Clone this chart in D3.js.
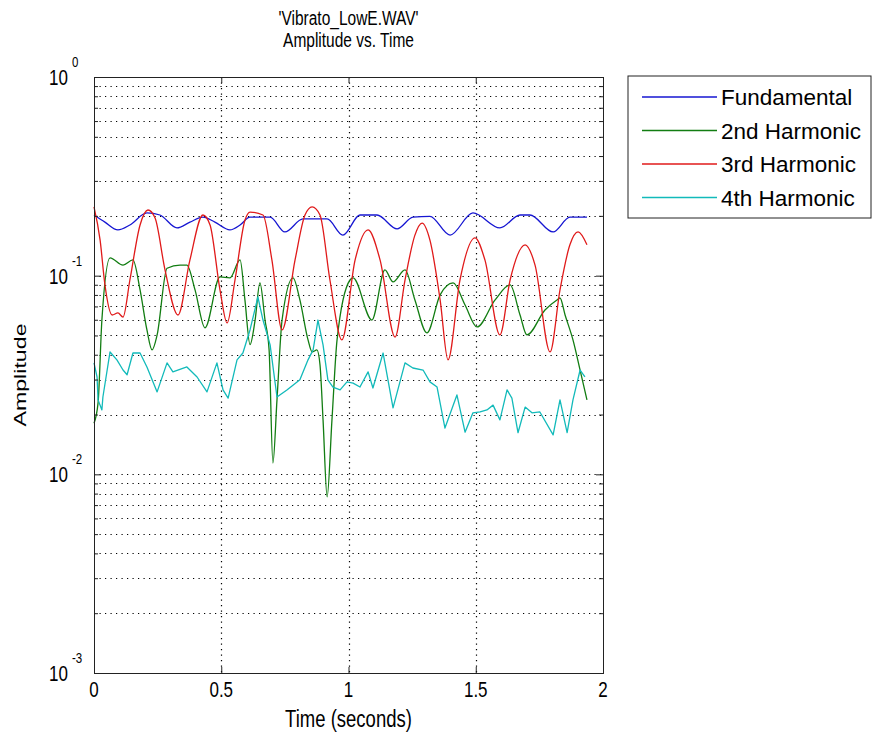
<!DOCTYPE html>
<html>
<head>
<meta charset="utf-8">
<script src="https://cdn.jsdelivr.net/npm/d3@7"></script>
<style>
  body { margin: 0; background: #fff; }
  svg text { font-family: "Liberation Sans", Arial, sans-serif; fill: #000; }
</style>
</head>
<body>
<svg id="chart"></svg>
<script>
// Text
const titleLines = ["'Vibrato_LowE.WAV'", 'Amplitude vs. Time'];
const xLabel = 'Time (seconds)';
const yLabel = 'Amplitude';
const seriesNames = ['Fundamental', '2nd Harmonic', '3rd Harmonic', '4th Harmonic'];
const seriesColors = ['#1616d2', '#127d12', '#e01a1a', '#12baba'];

// Ticks
const xTickValues = [0, 0.5, 1, 1.5, 2];
const yTickExponents = [0, -1, -2, -3];

// Fundamental
const fundTime = [0.0, 0.043, 0.094, 0.141, 0.208, 0.259, 0.326, 0.377, 0.428, 0.475, 0.534, 0.574, 0.613,
  0.692, 0.75, 0.821, 0.916, 0.978, 1.045, 1.112, 1.191, 1.253, 1.32, 1.399, 1.489, 1.595, 1.674, 1.713,
  1.804, 1.87, 1.937];
const fundAmp = [0.202, 0.186, 0.170, 0.180, 0.207, 0.202, 0.174, 0.186, 0.197, 0.186, 0.170, 0.180, 0.197,
  0.197, 0.166, 0.193, 0.193, 0.160, 0.202, 0.202, 0.172, 0.197, 0.199, 0.160, 0.207, 0.174, 0.202, 0.202,
  0.166, 0.197, 0.197];

// 2nd harmonic
const secondTime = [0.0, 0.016, 0.031, 0.063, 0.114, 0.153, 0.181, 0.208, 0.228, 0.248, 0.287, 0.338, 0.365,
  0.397, 0.436, 0.495, 0.534, 0.574, 0.593, 0.613, 0.633, 0.652, 0.672, 0.688, 0.703, 0.719, 0.739, 0.782,
  0.809, 0.841, 0.857, 0.876, 0.888, 0.900, 0.916, 0.935, 0.955, 1.006, 1.018, 1.092, 1.143, 1.175, 1.222,
  1.261, 1.308, 1.36, 1.411, 1.458, 1.505, 1.576, 1.635, 1.674, 1.701, 1.772, 1.819, 1.831, 1.851, 1.882,
  1.91, 1.937];
const secondAmp = [0.0181, 0.0229, 0.0598, 0.123, 0.113, 0.120, 0.0848, 0.0533, 0.0423, 0.0503, 0.109, 0.113,
  0.113, 0.0848, 0.0546, 0.0985, 0.0974, 0.120, 0.0755, 0.0450, 0.0598, 0.0919, 0.0598, 0.0423, 0.0114,
  0.0237, 0.0598, 0.0974, 0.0755, 0.0475, 0.0413, 0.0423, 0.0356, 0.0188, 0.0077, 0.0188, 0.0475, 0.0951,
  0.0974, 0.0598, 0.107, 0.0930, 0.107, 0.0755, 0.0515, 0.0800, 0.0919, 0.0712, 0.0552, 0.0755, 0.0898,
  0.0634, 0.0503, 0.0672, 0.0755, 0.0772, 0.0634, 0.0475, 0.0335, 0.0237];

// 3rd harmonic
const thirdTime = [0.0, 0.024, 0.043, 0.071, 0.094, 0.114, 0.141, 0.181, 0.212, 0.24, 0.279, 0.33, 0.377,
  0.428, 0.456, 0.495, 0.523, 0.554, 0.593, 0.613, 0.664, 0.699, 0.739, 0.79, 0.829, 0.857, 0.888, 0.927,
  0.974, 1.026, 1.077, 1.124, 1.183, 1.222, 1.261, 1.289, 1.32, 1.36, 1.391, 1.438, 1.497, 1.536, 1.595,
  1.635, 1.694, 1.733, 1.792, 1.831, 1.87, 1.902, 1.937];
const thirdAmp = [0.222, 0.151, 0.0898, 0.0634, 0.0649, 0.0619, 0.0951, 0.180, 0.214, 0.195, 0.107, 0.0634,
  0.120, 0.202, 0.180, 0.0848, 0.0578, 0.0951, 0.190, 0.209, 0.202, 0.120, 0.0533, 0.120, 0.202, 0.222,
  0.202, 0.0951, 0.0475, 0.120, 0.170, 0.120, 0.0491, 0.0951, 0.160, 0.184, 0.151, 0.0755, 0.0377, 0.0951,
  0.155, 0.120, 0.0503, 0.0951, 0.143, 0.113, 0.0413, 0.0848, 0.143, 0.166, 0.143];

// 4th harmonic
const fourthTime = [0.0, 0.012, 0.016, 0.031, 0.035, 0.063, 0.09, 0.114, 0.13, 0.153, 0.181, 0.208, 0.248,
  0.287, 0.31, 0.365, 0.405, 0.444, 0.483, 0.507, 0.527, 0.562, 0.585, 0.613, 0.644, 0.664, 0.692, 0.719,
  0.758, 0.809, 0.841, 0.861, 0.88, 0.9, 0.919, 0.939, 0.967, 0.994, 1.018, 1.045, 1.077, 1.096, 1.136,
  1.175, 1.222, 1.253, 1.293, 1.32, 1.348, 1.379, 1.426, 1.458, 1.489, 1.517, 1.544, 1.568, 1.595, 1.623,
  1.642, 1.666, 1.694, 1.721, 1.752, 1.804, 1.831, 1.859, 1.882, 1.91, 1.929];
const fourthAmp = [0.0364, 0.0309, 0.0237, 0.0211, 0.0245, 0.0413, 0.0377, 0.0335, 0.0317, 0.0408, 0.0408,
  0.0347, 0.0260, 0.0364, 0.0328, 0.0347, 0.0309, 0.0260, 0.0364, 0.0266, 0.0242, 0.0377, 0.0408, 0.0533,
  0.0781, 0.0598, 0.0448, 0.0245, 0.0266, 0.0299, 0.0377, 0.0423, 0.0598, 0.0448, 0.0299, 0.0275, 0.0266,
  0.0292, 0.0288, 0.0275, 0.0328, 0.0272, 0.0408, 0.0216, 0.0364, 0.0343, 0.0335, 0.0292, 0.0275, 0.0171,
  0.0251, 0.0163, 0.0204, 0.0206, 0.0211, 0.0223, 0.0188, 0.0266, 0.0242, 0.0162, 0.0218, 0.0204, 0.0206,
  0.0158, 0.0237, 0.0162, 0.0237, 0.0335, 0.0309];

// text that is a bit taller than it is wide, like the stretched original
function tallText(parent, x, y, str, size, sy, anchor) {
    return parent.append('text')
        .attr('transform', `translate(${x},${y}) scale(1,${sy})`)
        .attr('text-anchor', anchor || 'start')
        .attr('font-size', size)
        .text(str);
}

class LogLinePlot {

    constructor(_config, _data) {
        this.config = {
            parentElement: _config.parentElement,
            containerWidth: _config.containerWidth || 876,
            containerHeight: _config.containerHeight || 743,
            margin: { top: 77, bottom: 70, right: 273, left: 94 }
        }
        this.data = _data;
        this.initVis();
    }

    initVis() {
        let vis = this;

        vis.width = vis.config.containerWidth - vis.config.margin.left - vis.config.margin.right;
        vis.height = vis.config.containerHeight - vis.config.margin.top - vis.config.margin.bottom;

        vis.svg = d3.select(vis.config.parentElement)
            .attr('width', vis.config.containerWidth)
            .attr('height', vis.config.containerHeight);

        vis.chart = vis.svg.append('g')
            .attr('transform', `translate(${vis.config.margin.left},${vis.config.margin.top})`);

        vis.xScale = d3.scaleLinear()
            .domain([0, 2])
            .range([0, vis.width]);

        vis.yScale = d3.scaleLog()
            .domain([1e-3, 1])
            .range([vis.height, 0]);

        // major and minor positions of the log axis
        vis.yMajor = yTickExponents.map(e => Math.pow(10, e));
        vis.yMinor = [];
        for (let e = -3; e < 0; e++) {
            for (let k = 2; k <= 9; k++) vis.yMinor.push(k * Math.pow(10, e));
        }

        vis.renderVis();
    }

    renderVis() {
        let vis = this;

        // dotted grid
        const grid = vis.chart.append('g').attr('class', 'grid')
            .attr('stroke', '#000')
            .attr('stroke-width', 1.2)
            .attr('stroke-dasharray', '1.2,4.3');

        grid.selectAll('.hgrid')
            .data(vis.yMinor.concat(vis.yMajor.filter(v => v > 1e-3 && v < 1)))
          .join('line')
            .attr('class', 'hgrid')
            .attr('x1', 0).attr('x2', vis.width)
            .attr('y1', d => Math.round(vis.yScale(d)) + 0.5)
            .attr('y2', d => Math.round(vis.yScale(d)) + 0.5);

        grid.selectAll('.vgrid')
            .data(xTickValues.filter(v => v > 0 && v < 2))
          .join('line')
            .attr('class', 'vgrid')
            .attr('y1', 0).attr('y2', vis.height)
            .attr('x1', d => Math.round(vis.xScale(d)) + 0.5)
            .attr('x2', d => Math.round(vis.xScale(d)) + 0.5);

        // lines
        vis.line = d3.line()
            .x(d => vis.xScale(d.t))
            .y(d => vis.yScale(d.v));

        vis.chart.selectAll('.series')
            .data(vis.data)
          .join('path')
            .attr('class', 'series')
            .attr('fill', 'none')
            .attr('stroke', d => d.color)
            .attr('stroke-width', 1.3)
            .attr('stroke-linejoin', 'round')
            .attr('d', d => vis.line.curve(d.smooth ? d3.curveMonotoneX : d3.curveLinear)(d.values));

        // box and inward ticks on all four sides
        const xBottom = d3.axisBottom(vis.xScale).tickValues(xTickValues).tickSize(-6).tickFormat('');
        const xTop = d3.axisTop(vis.xScale).tickValues(xTickValues).tickSize(-6).tickFormat('');
        const yLeft = d3.axisLeft(vis.yScale).tickValues(vis.yMajor).tickSize(-7).tickFormat('');
        const yRight = d3.axisRight(vis.yScale).tickValues(vis.yMajor).tickSize(-7).tickFormat('');
        const yLeftMinor = d3.axisLeft(vis.yScale).tickValues(vis.yMinor).tickSize(-4).tickFormat('');
        const yRightMinor = d3.axisRight(vis.yScale).tickValues(vis.yMinor).tickSize(-4).tickFormat('');

        const axes = [
            [xBottom, `translate(0,${vis.height})`],
            [xTop, 'translate(0,0)'],
            [yLeft, 'translate(0,0)'],
            [yLeftMinor, 'translate(0,0)'],
            [yRight, `translate(${vis.width},0)`],
            [yRightMinor, `translate(${vis.width},0)`]
        ];
        axes.forEach(([ax, tr]) => {
            const g = vis.chart.append('g').attr('class', 'axis').attr('transform', tr).call(ax);
            g.selectAll('path, line').attr('stroke', '#222').attr('stroke-width', 1);
        });

        // x tick labels
        const xLab = vis.chart.append('g').attr('class', 'xlabels');
        xTickValues.forEach(v => {
            tallText(xLab, vis.xScale(v), vis.height + 24, d3.format('~g')(v), 17, 1.3, 'middle');
        });

        // y tick labels as 10 with a raised exponent
        const yLab = vis.chart.append('g').attr('class', 'ylabels');
        yTickExponents.forEach(e => {
            const yPos = vis.yScale(Math.pow(10, e));
            tallText(yLab, -26, yPos + 8, '10', 17, 1.3, 'end');
            tallText(yLab, -22, yPos - 10, String(e), 11.5, 1.3, 'start');
        });

        // titles
        const cx = vis.config.margin.left + vis.width / 2;
        titleLines.forEach((t, i) => tallText(vis.svg, cx, 25 + i * 22, t, 15.5, 1.3, 'middle'));

        tallText(vis.svg, cx, 727, xLabel, 18.5, 1.25, 'middle');

        vis.svg.append('text')
            .attr('transform', `translate(26,${vis.config.margin.top + vis.height / 2}) rotate(-90) scale(1.45,1)`)
            .attr('text-anchor', 'middle')
            .attr('font-size', 16)
            .text(yLabel);

        // legend
        const legend = vis.svg.append('g').attr('transform', 'translate(628,76)');
        legend.append('rect')
            .attr('width', 243).attr('height', 142)
            .attr('fill', '#fff').attr('stroke', '#222').attr('stroke-width', 1);

        const rows = legend.selectAll('.row')
            .data(vis.data)
          .join('g')
            .attr('class', 'row')
            .attr('transform', (d, i) => `translate(0,${21 + i * 33.5})`);
        rows.append('line')
            .attr('x1', 14).attr('x2', 89)
            .attr('stroke', d => d.color).attr('stroke-width', 1.3);
        rows.append('text')
            .attr('x', 93).attr('dy', '0.36em')
            .attr('font-size', 22.5)
            .text(d => d.name);
    }
}

const zip = (ts, vs) => ts.map((t, i) => ({ t: t, v: vs[i] }));
const plotData = [
    { name: seriesNames[0], color: seriesColors[0], smooth: true, values: zip(fundTime, fundAmp) },
    { name: seriesNames[1], color: seriesColors[1], smooth: true, values: zip(secondTime, secondAmp) },
    { name: seriesNames[2], color: seriesColors[2], smooth: true, values: zip(thirdTime, thirdAmp) },
    { name: seriesNames[3], color: seriesColors[3], smooth: false, values: zip(fourthTime, fourthAmp) }
];

new LogLinePlot({ parentElement: '#chart' }, plotData);
</script>
</body>
</html>
